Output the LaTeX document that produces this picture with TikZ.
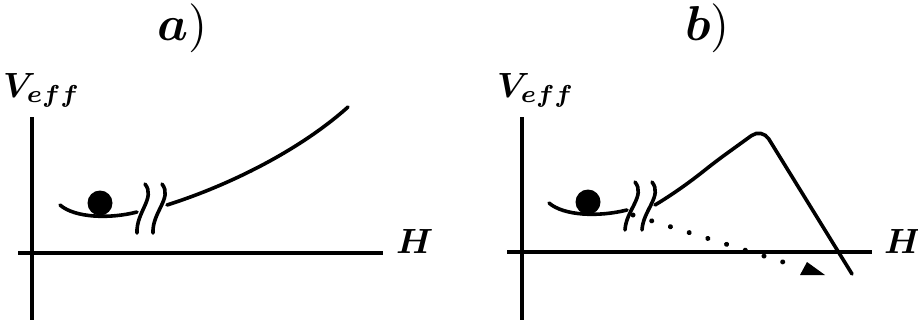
\documentclass[tikz,border=0pt]{standalone}
\usepackage{bm}
\tikzset{
  curve/.style={line width=3.6pt, line cap=round},
  axis/.style={line width=3.6pt},
  lbl/.style={inner sep=0pt, anchor=base west},
  ball/.style={circle, fill=black, inner sep=0pt, minimum size=25pt},
  dots/.style={line width=5pt, line cap=round, dash pattern=on 0.01pt off 19.6pt}
}
\newcommand{\lblsize}[1]{\scalebox{3.5}{#1}}
\newcommand{\ttlsize}[1]{\scalebox{4.9}{#1}}
\begin{document}
\begin{tikzpicture}[x=1pt, y=-1pt]
\useasboundingbox (0,0) rectangle (918,324);
% titles
\node[lbl] (ta) at (157,40) {\ttlsize{$\bm{a})$}};
\node[lbl] (tb) at (685,40) {\ttlsize{$\bm{b})$}};
% panel a
\draw[axis] (32,117) -- (32,320);
\draw[axis] (18,253) -- (383,253);
\node[lbl] (va) at (3,97) {\lblsize{$\bm{V_{eff}}$}};
\node[lbl] (ha) at (396,253) {\lblsize{$\bm{H}$}};
\draw[curve] (60,205) .. controls (75,218) and (110,219) .. (137,212);
\node[ball] (ba) at (100,203) {};
\draw[curve] (145,184) .. controls (156,198) and (136,212) .. (137,233);
\draw[curve] (162,184) .. controls (173,198) and (152,212) .. (153,233);
\draw[curve] (167,205) .. controls (230,185) and (300,150) .. (348,107);
% panel b
\draw[axis] (522,117) -- (522,320);
\draw[axis] (507,252) -- (872,252);
\node[lbl] (vb) at (497,97) {\lblsize{$\bm{V_{eff}}$}};
\node[lbl] (hb) at (884,253) {\lblsize{$\bm{H}$}};
\draw[curve] (549,203) .. controls (564,216) and (599,217) .. (627,210);
\node[ball] (bb) at (588,202) {};
\draw[curve] (635,182) .. controls (646,196) and (626,210) .. (625,230);
\draw[curve] (652,182) .. controls (663,196) and (643,210) .. (642,230);
\draw[curve, rounded corners=13pt] (655,205) .. controls (680,190) and (700,174) .. (715,162) -- (762,128) -- (852,274);
\coordinate (ds) at (633,215);
\coordinate (de) at (783,262);
\draw[dots] (ds) -- (de);
\fill (800,275) -- (825,275) -- (807,262) -- cycle;
\end{tikzpicture}
\end{document}
